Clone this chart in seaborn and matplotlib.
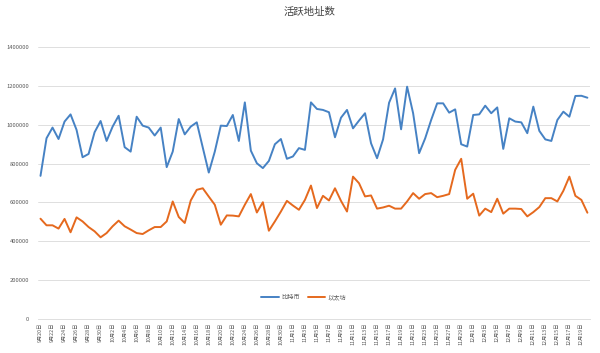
import datetime as dt
import matplotlib
matplotlib.use("Agg")
import matplotlib.pyplot as plt
import numpy as np
import pandas as pd
import seaborn as sns

btc = [737, 931, 986, 927, 1017, 1054, 974, 833, 850, 962,
       1020, 917, 991, 1047, 885, 862, 1042, 996, 986, 945,
       986, 782, 862, 1030, 951, 991, 1013, 883, 754, 862,
       996, 994, 1051, 917, 1116, 867, 802, 777, 814, 900,
       927, 825, 837, 880, 871, 1116, 1082, 1077, 1065, 936,
       1037, 1077, 982, 1022, 1060, 905, 828, 925, 1114, 1188,
       977, 1197, 1060, 854, 930, 1025, 1111, 1111, 1063, 1080,
       900, 888, 1051, 1054, 1099, 1060, 1090, 876, 1034, 1017,
       1013, 957, 1094, 969, 925, 917, 1025, 1068, 1042, 1149,
       1150, 1140]
eth = [516, 482, 482, 465, 515, 446, 523, 502, 473, 451,
       420, 442, 477, 506, 477, 460, 442, 437, 456, 473,
       473, 502, 605, 525, 494, 610, 665, 673, 630, 588,
       485, 533, 532, 528, 588, 643, 548, 601, 454, 502,
       553, 608, 584, 562, 613, 687, 571, 634, 610, 673,
       608, 553, 733, 699, 631, 636, 568, 574, 583, 568,
       568, 605, 648, 619, 643, 648, 627, 634, 643, 768,
       825, 619, 645, 532, 568, 550, 619, 542, 568, 568,
       566, 528, 550, 576, 622, 622, 605, 660, 733, 634,
       613, 547]

start = dt.date(2021, 9, 20)
days = [start + dt.timedelta(days=i) for i in range(len(btc))]
date_labels = [f"{d.month}月{d.day}日" for d in days]

df = pd.DataFrame({
    "idx": list(range(len(btc))) * 2,
    "value": [v * 1000 for v in btc] + [v * 1000 for v in eth],
    "series": ["比特币"] * len(btc) + ["以太坊"] * len(eth),
})

sns.set_style("white")
plt.rcParams["font.family"] = ["Noto Sans CJK SC", "DejaVu Sans"]

fig = plt.figure(figsize=(6, 3.53), dpi=100)
ax = fig.add_axes([0.063, 0.097, 0.92, 0.769])

sns.lineplot(data=df, x="idx", y="value", hue="series",
             palette={"比特币": "#4682C4", "以太坊": "#E5691E"},
             linewidth=1.4, ax=ax, legend=False)

ax.set_ylim(0, 1400000)
ax.set_xlim(-0.45, 91.4)
ax.set_yticks(range(0, 1400001, 200000))
ax.set_yticklabels([str(v) for v in range(0, 1400001, 200000)],
                   fontsize=4.2, color="#595959")
ax.set_xticks(range(0, len(btc), 2))
ax.set_xticklabels(date_labels[::2], rotation=90, fontsize=3.8, color="#595959")
ax.tick_params(axis="y", length=0, pad=6)
ax.tick_params(axis="x", length=0, pad=3)
ax.grid(axis="y", color="#d9d9d9", linewidth=0.6)
ax.set_xlabel("")
ax.set_ylabel("")
for s in ["top", "right", "left"]:
    ax.spines[s].set_visible(False)
ax.spines["bottom"].set_color("#d9d9d9")
ax.spines["bottom"].set_linewidth(0.6)

h1, = ax.plot([], [], color="#4682C4", linewidth=1.4, label="比特币")
h2, = ax.plot([], [], color="#E5691E", linewidth=1.4, label="以太坊")
ax.legend(handles=[h1, h2], loc="center", bbox_to_anchor=(0.482, 0.08),
          ncol=2, frameon=False, fontsize=4.5, handlelength=2.8,
          columnspacing=1.2, handletextpad=0.4, labelcolor="#595959")

fig.text(0.515, 0.965, "活跃地址数", ha="center", va="center",
         fontsize=7.5, color="#404040")

fig.savefig("out.png", dpi=100, facecolor="white")
